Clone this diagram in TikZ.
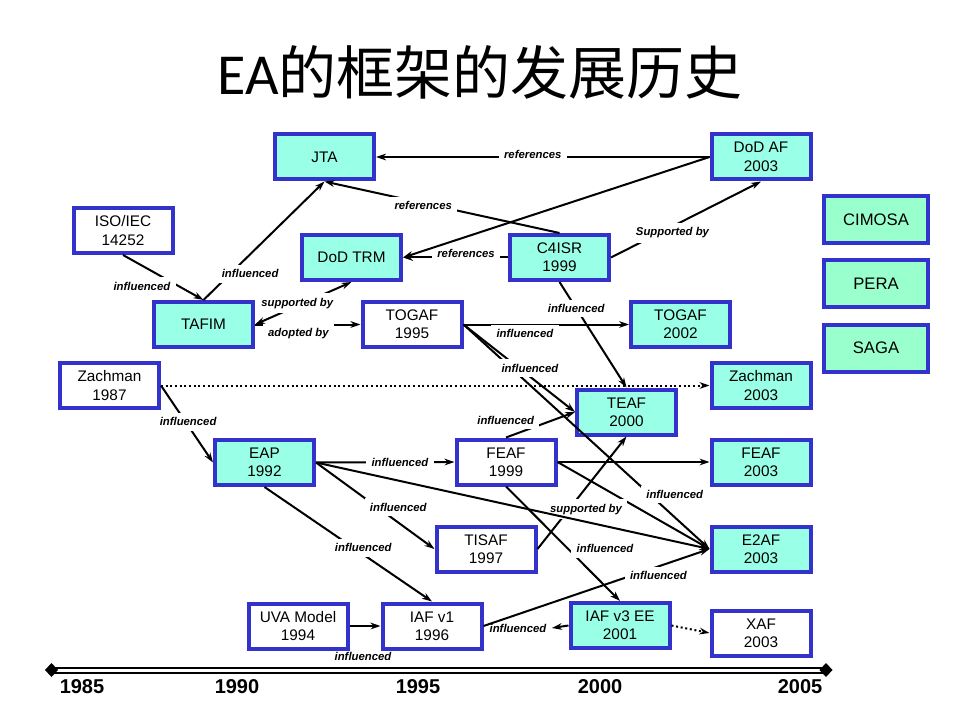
\documentclass[tikz,border=0pt]{standalone}
\usepackage{fontspec}
\setmainfont{Liberation Sans}
\newfontfamily\cjk{Noto Sans CJK SC}
\newfontfamily\titlelat{Carlito}
\usetikzlibrary{arrows.meta}
\definecolor{eablue}{RGB}{51,51,204}
\definecolor{eaaqua}{RGB}{153,255,230}
\definecolor{eamint}{RGB}{153,255,204}

\begin{document}
\begin{tikzpicture}[x=0.75pt, y=-0.75pt, >={Stealth[length=7.5pt, width=5pt]},
  wbox/.style={draw=eablue, line width=3pt, fill=white, minimum width=74.25pt,
    minimum height=33.75pt, inner sep=1pt, align=center,
    font=\fontsize{11.5}{13.8}\selectfont},
  abox/.style={wbox, fill=eaaqua},
  mbox/.style={wbox, fill=eamint, minimum width=78pt, minimum height=35.25pt,
    font=\fontsize{12.5}{15}\selectfont},
  lbl/.style={fill=white, inner xsep=4pt, inner ysep=3.5pt,
    font=\fontsize{8.5}{10}\selectfont\bfseries\itshape},
  link/.style={line width=1.5pt, ->},
  yr/.style={font=\fontsize{15}{18}\selectfont\bfseries}]

\useasboundingbox (0,0) rectangle (960,720);

\node (title) at (480,72) {\fontsize{43.5}{52}\selectfont{\titlelat EA}{\cjk 的框架的发展历史}};

% frameworks
\node[abox] (jta) at (324.5,157) {JTA};
\node[abox] (dodaf) at (761,157) {DoD AF\\2003};
\node[wbox] (isoiec) at (123,230.5) {ISO/IEC\\14252};
\node[abox] (dodtrm) at (351.5,257.5) {DoD TRM};
\node[abox] (cfour) at (559.5,257.5) {C4ISR\\1999};
\node[abox] (tafim) at (203.5,324.5) {TAFIM};
\node[wbox] (togafa) at (412,324.5) {TOGAF\\1995};
\node[abox] (togafb) at (680.5,324.5) {TOGAF\\2002};
\node[wbox] (zacha) at (109.5,385.5) {Zachman\\1987};
\node[abox] (zachb) at (761,385.5) {Zachman\\2003};
\node[abox] (teaf) at (626.5,412) {TEAF\\2000};
\node[abox] (eap) at (264.5,462.5) {EAP\\1992};
\node[wbox] (feafa) at (506,462) {FEAF\\1999};
\node[abox] (feafb) at (761,462) {FEAF\\2003};
\node[wbox] (tisaf) at (486,549) {TISAF\\1997};
\node[abox] (etaf) at (761,549) {E2AF\\2003};
\node[wbox] (uva) at (298,626) {UVA Model\\1994};
\node[wbox] (iafa) at (432,626) {IAF v1\\1996};
\node[abox] (iafc) at (620,625.5) {IAF v3 EE\\2001};
\node[wbox] (xaf) at (761,633) {XAF\\2003};

\foreach \ny/\nm in {219.5/CIMOSA, 283.5/PERA, 348/SAGA}
  \node[mbox] (\nm) at (876,\ny) {\nm};

% DoD AF and C4ISR
\draw[link] (dodaf.west) -- node[lbl, pos=0.53, yshift=2pt] {references} (jta.east);
\draw[link] (cfour.north) -- node[lbl, pos=0.58, yshift=-2pt] {references} (jta.south);
\draw[link] (cfour.west) -- node[lbl, pos=0.4, yshift=3pt] {references} (dodtrm.east);
\draw[link] (dodaf.west) -- (dodtrm.east);
\draw[link] (cfour.east) -- node[lbl, pos=0.41, yshift=-5pt] {Supported by} (dodaf.south);

% TAFIM
\draw[link] (isoiec.south) -- node[lbl, pos=0.5, xshift=-16pt, yshift=-6.5pt] {influenced} (tafim.north);
\draw[link] (tafim.north) -- node[lbl, pos=0.22, xshift=15pt] {influenced} (jta.south);
\draw[<->, line width=1.5pt] (dodtrm.south) -- node[lbl, pos=0.5, xshift=-4.5pt] {supported by} (tafim.east);
\draw[link] (tafim.east) -- node[lbl, pos=0.5, xshift=-7pt, yshift=-6.75pt] {adopted by} (togafa.west);

% TOGAF
\draw[link] (togafa.east) -- node[lbl, pos=0.5, xshift=-16pt, yshift=-6.75pt] {influenced} (togafb.west);
\draw[link] (togafa.east) -- node[lbl, pos=0.757, xshift=18.75pt] {influenced} (etaf.west);
\draw[link] (togafa.east) -- node[lbl, pos=0.5, xshift=8pt] {influenced} (teaf.west);
\draw[link] (cfour.south) -- node[lbl, pos=0.25] {influenced} (teaf.north);

% Zachman
\draw[link, dotted] (zacha.east) -- (zachb.west);
\draw[link] (zacha.east) -- node[lbl, pos=0.47, xshift=2pt] {influenced} (eap.west);

% EAP
\draw[link] (eap.east) -- node[lbl, pos=0.5, xshift=11pt] {influenced} (feafa.west);
\draw[link] (eap.east) -- node[lbl, pos=0.517, xshift=15.75pt] {influenced} (tisaf.west);
\draw[link] (eap.south) -- node[lbl, pos=0.59, yshift=5pt] {influenced} (iafa.north);
\draw[link] (uva.east) -- node[lbl, fill=none, pos=0.5, xshift=-1.5pt, yshift=-23pt] {influenced} (iafa.west);

% FEAF and TISAF
\draw[link] (feafa.north) -- node[lbl, pos=0.15, xshift=-8pt, yshift=10pt] {influenced} (teaf.west);
\draw[link] (feafa.east) -- (feafb.west);
\draw[link] (feafa.east) -- (etaf.west);
\draw[link] (feafa.south) -- node[lbl, pos=0.544, xshift=27.75pt] {influenced} (iafc.north);
\draw[link] (tisaf.east) -- node[lbl, pos=0.354, xshift=12.75pt] {supported by} (teaf.south);
\draw[link] (eap.east) -- (etaf.west);

% IAF
\draw[link] (iafa.east) -- node[lbl, pos=0.774, yshift=-7pt] {influenced} (etaf.west);
\node[lbl, fill=none] (iafnote) at (518,628) {influenced};
\draw[link] (iafc.west) -- (iafnote.east);
\draw[link, dotted] (iafc.east) -- (xaf.west);

% time line
\coordinate (tla) at (51.5,670);
\coordinate (tlb) at (826,670);
\draw[double, double distance=2.25pt, line width=1.5pt] (tla) -- (tlb);
\foreach \e in {tla,tlb}
  \fill (\e) +(-6.5,0) -- +(0,-7) -- +(6.5,0) -- +(0,7) -- cycle;
\foreach \yx/\yv in {82/1985, 237/1990, 418/1995, 600/2000, 800/2005}
  \node[yr] (y\yv) at (\yx,687) {\yv};
\end{tikzpicture}
\end{document}
